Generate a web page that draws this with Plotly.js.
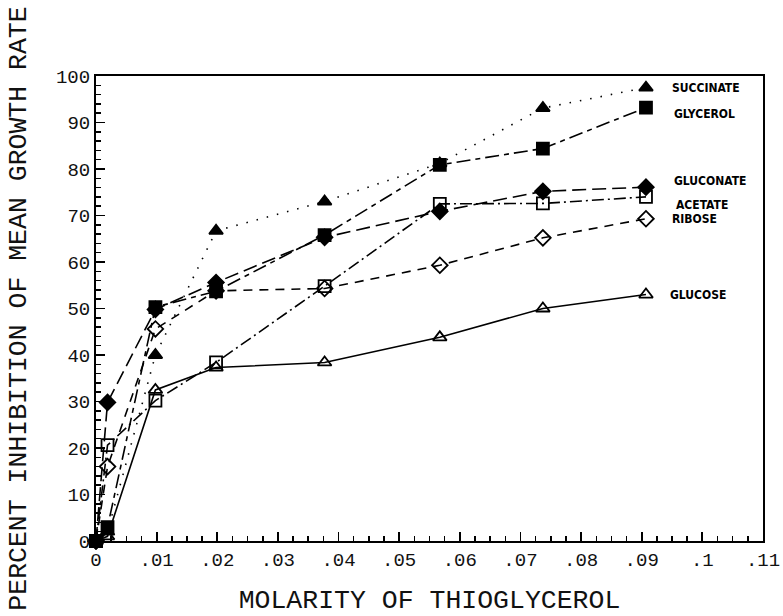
<!DOCTYPE html>
<html>
<head>
<meta charset="utf-8">
<script src="https://cdn.plot.ly/plotly-3.0.1.min.js"></script>
<style>html,body{margin:0;padding:0;background:#fff;}#chart{width:783px;height:616px;}</style>
</head>
<body>
<div id="chart"></div>
<script>
// Molarity of thioglycerol
const molarity = [0, 0.0019, 0.0098, 0.0198, 0.0377, 0.0567, 0.0737, 0.0907];

// Percent inhibition of mean growth rate
const succinate = [0, 2, 40, 66.7, 73, 81.2, 93.1, 97.5];
const glycerol  = [0, 3, 50.3, 53.7, 65.8, 80.9, 84.4, 93.2];
const gluconate = [0, 29.8, 49.8, 55.6, 65.3, 70.9, 75.2, 76.1];
const acetate   = [0, 20.6, 30.2, 38.4, 54.8, 72.5, 72.6, 74];
const ribose    = [0, 16, 45.6, 53.8, 54.3, 59.3, 65.2, 69.3];
const glucose   = [0, 1, 32.5, 37.3, 38.4, 43.8, 50, 53];

const seriesNames = ["SUCCINATE", "GLYCEROL", "GLUCONATE", "ACETATE", "RIBOSE", "GLUCOSE"];

const xTickVals = [0, 0.01, 0.02, 0.03, 0.04, 0.05, 0.06, 0.07, 0.08, 0.09, 0.1, 0.11];
const xTickText = ["0", ".01", ".02", ".03", ".04", ".05", ".06", ".07", ".08", ".09", ".1", ".11"];
const yTickVals = [0, 10, 20, 30, 40, 50, 60, 70, 80, 90, 100];
const yTickText = ["0", "10", "20", "30", "40", "50", "60", "70", "80", "90", "100"];

const values = [succinate, glycerol, gluconate, acetate, ribose, glucose];
const styles = [
  {symbol: "triangle-up", dash: "1.5px,9px"},
  {symbol: "square", dash: "14px,5px,5px,5px"},
  {symbol: "diamond", dash: "14px,6px"},
  {symbol: "square-open", dash: "12px,4px,2px,4px"},
  {symbol: "diamond-open", dash: "9px,7px"},
  {symbol: "triangle-up-open", dash: "solid"}
];
const labelShift = [[24, 0], [26, -6], [26, 6], [28, -8], [24, 0], [22, 0]];

const traces = values.map((v, i) => ({
  x: molarity, y: v, name: seriesNames[i], type: "scatter", mode: "lines+markers",
  cliponaxis: false,
  line: {color: "#000", width: 1.6, dash: styles[i].dash},
  marker: {symbol: styles[i].symbol, size: 12, color: "#000",
           line: {color: "#000", width: 1.8}}
}));

const annotations = values.map((v, i) => ({
  x: molarity[molarity.length - 1], y: v[v.length - 1], xref: "x", yref: "y",
  text: seriesNames[i], showarrow: false, xanchor: "left", yanchor: "middle",
  xshift: labelShift[i][0], yshift: labelShift[i][1],
  font: {family: "'Liberation Sans Narrow', 'DejaVu Sans Condensed', 'Liberation Sans', sans-serif",
         size: 12, color: "#000", weight: "bold"}
}));

const monoFont = "'Liberation Mono', 'DejaVu Sans Mono', monospace";

const layout = {
  width: 783, height: 616,
  margin: {l: 96, r: 20, t: 76, b: 75},
  paper_bgcolor: "#fff", plot_bgcolor: "#fff",
  showlegend: false,
  xaxis: {
    range: [0, 0.11], showgrid: false, zeroline: false,
    showline: true, linecolor: "#000", linewidth: 2, mirror: true,
    ticks: "inside", ticklen: 9, tickwidth: 1.8, tickcolor: "#000",
    tickmode: "array", tickvals: xTickVals, ticktext: xTickText,
    minor: {dtick: 0.0025, tick0: 0, ticks: "inside", ticklen: 5, tickwidth: 1.5, tickcolor: "#000", showgrid: false},
    tickfont: {family: monoFont, size: 19, color: "#111"},
    title: {text: "MOLARITY OF THIOGLYCEROL", font: {family: monoFont, size: 26.5, color: "#111"}, standoff: 32}
  },
  yaxis: {
    range: [0, 100], showgrid: false, zeroline: false,
    showline: true, linecolor: "#000", linewidth: 2, mirror: true,
    ticks: "inside", ticklen: 9, tickwidth: 1.8, tickcolor: "#000",
    tickmode: "array", tickvals: yTickVals, ticktext: yTickText,
    minor: {dtick: 2, tick0: 0, ticks: "inside", ticklen: 5, tickwidth: 1.5, tickcolor: "#000", showgrid: false},
    tickfont: {family: monoFont, size: 19, color: "#111"},
    ticklabelstandoff: 0,
    title: {text: "PERCENT INHIBITION OF MEAN GROWTH RATE", font: {family: monoFont, size: 26.5, color: "#111"}, standoff: 22}
  },
  annotations: annotations
};

Plotly.newPlot("chart", traces, layout, {staticPlot: true, displayModeBar: false});
</script>
</body>
</html>
